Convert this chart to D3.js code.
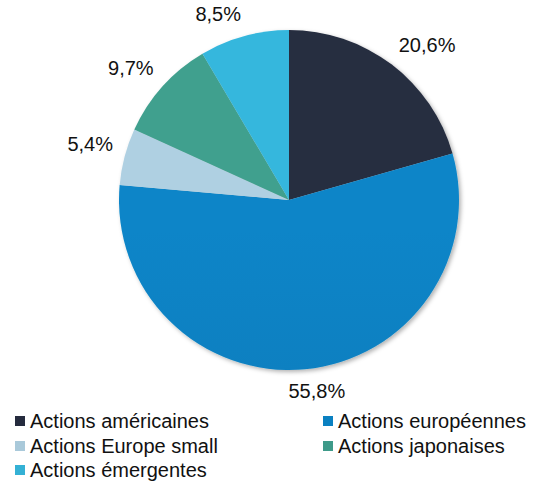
<!DOCTYPE html>
<html>
<head>
<meta charset="utf-8">
<script src="https://cdnjs.cloudflare.com/ajax/libs/d3/7.8.5/d3.min.js"></script>
<style>
  body { margin: 0; background: #fff; }
  text { font-family: "Liberation Sans", Arial, sans-serif; fill: #111; }
</style>
</head>
<body>
<div id="chart"></div>
<script>
//Chart data
var categories = ["Actions américaines", "Actions européennes", "Actions Europe small", "Actions japonaises", "Actions émergentes"];
var values = [20.6, 55.8, 5.4, 9.7, 8.5];
var colors = ["#252b3e", "#0a80c1", "#a9c9da", "#3e9a89", "#34b1d5"];

var width = 542, height = 483;
var cx = 289, cy = 200, radius = 170;

var svg = d3.select("#chart")
  .append("svg")
  .attr("width", width)
  .attr("height", height);

var defs = svg.append("defs");

//Soft shadow under the pie
var shadow = defs.append("filter")
  .attr("id", "shadow")
  .attr("x", "-10%").attr("y", "-10%")
  .attr("width", "130%").attr("height", "130%");
shadow.append("feDropShadow")
  .attr("dx", 2).attr("dy", 2)
  .attr("stdDeviation", 2)
  .attr("flood-color", "#000")
  .attr("flood-opacity", 0.3);

//Slight top-to-bottom gradient for each slice
colors.forEach(function(c, i) {
  var g = defs.append("linearGradient")
    .attr("id", "grad" + i)
    .attr("gradientUnits", "userSpaceOnUse")
    .attr("x1", 0).attr("y1", cy - radius)
    .attr("x2", 0).attr("y2", cy + radius);
  g.append("stop").attr("offset", "0%").attr("stop-color", d3.color(c).brighter(0.1));
  g.append("stop").attr("offset", "100%").attr("stop-color", d3.color(c).darker(0.15));
});

var data = categories.map(function(d, i) {
  return { name: d, value: values[i], index: i };
});

var pie = d3.pie()
  .sort(null)
  .value(function(d) { return d.value; });

var arc = d3.arc()
  .innerRadius(0)
  .outerRadius(radius);

var arcs = pie(data);

var g = svg.append("g")
  .attr("transform", "translate(" + cx + "," + cy + ")");

g.append("g")
  .attr("filter", "url(#shadow)")
  .selectAll("path")
  .data(arcs)
  .enter()
  .append("path")
  .attr("d", arc)
  .style("fill", function(d) { return "url(#grad" + d.data.index + ")"; });

//Percent labels outside the slices (box pushed away from the edge)
var fmt = function(v) { return v.toFixed(1).replace(".", ",") + "%"; };
var gap = 12, labelH = 20;
var push = function(v) { return Math.max(-1, Math.min(1, v * 4)); };

g.selectAll(".label")
  .data(arcs)
  .enter()
  .append("text")
  .attr("class", "label")
  .style("font-size", "20px")
  .attr("text-anchor", "middle")
  .attr("dy", "0.35em")
  .text(function(d) { return fmt(d.data.value); })
  .each(function(d) {
    var a = (d.startAngle + d.endAngle) / 2;
    var s = Math.sin(a), c = Math.cos(a);
    var w = this.getComputedTextLength();
    var px = (radius + gap) * s, py = -(radius + gap) * c;
    d3.select(this)
      .attr("x", px + push(s) * w / 2)
      .attr("y", py - push(c) * labelH / 2);
  });

//Legend
var legendPos = [[15, 421], [323, 421], [15, 446], [323, 446], [15, 470]];

var legend = svg.selectAll(".legend")
  .data(data)
  .enter()
  .append("g")
  .attr("class", "legend")
  .attr("transform", function(d, i) {
    return "translate(" + legendPos[i][0] + "," + legendPos[i][1] + ")";
  });

legend.append("rect")
  .attr("x", 0)
  .attr("y", -5)
  .attr("width", 10)
  .attr("height", 10)
  .style("fill", function(d) { return colors[d.index]; });

legend.append("text")
  .attr("x", 15)
  .attr("y", 0)
  .attr("dy", "0.35em")
  .style("font-size", "20px")
  .text(function(d) { return d.name; });
</script>
</body>
</html>
